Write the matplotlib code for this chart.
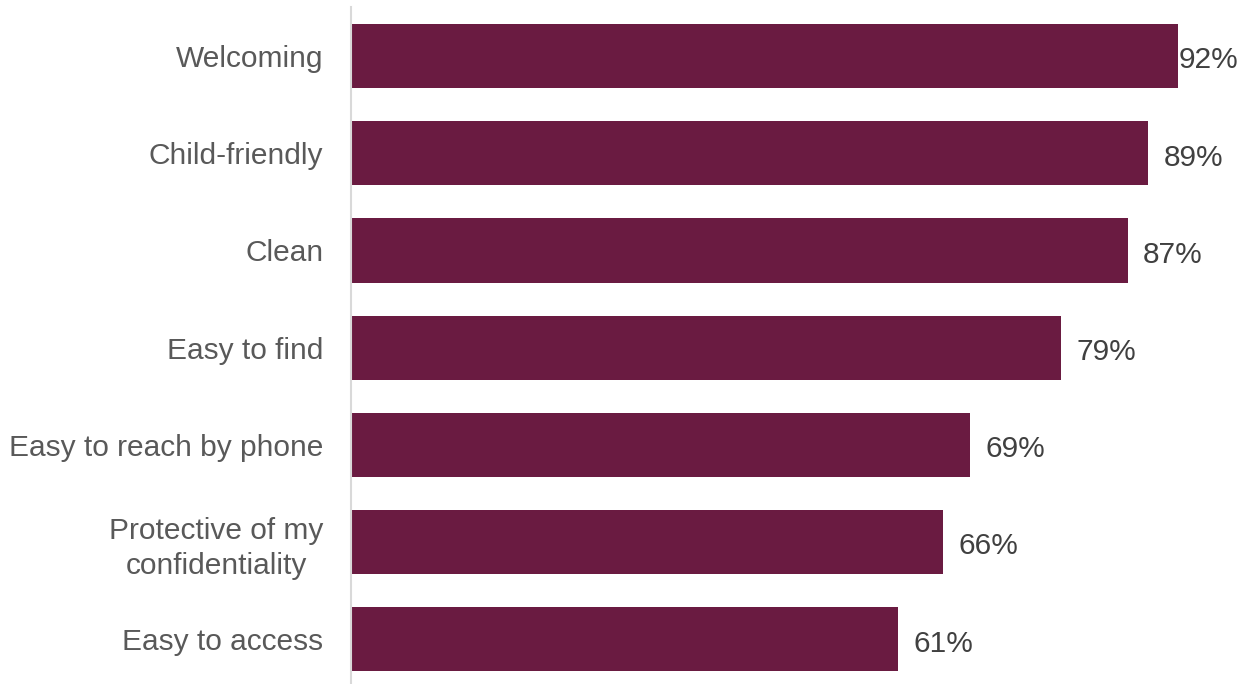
import matplotlib
matplotlib.use("Agg")
import matplotlib.pyplot as plt

categories = ["Welcoming", "Child-friendly", "Clean", "Easy to find",
              "Easy to reach by phone", "Protective of my\nconfidentiality", "Easy to access"]
values = [92, 88.7, 86.4, 79, 68.9, 65.9, 60.9]
value_labels = ["92%", "89%", "87%", "79%", "69%", "66%", "61%"]

plt.rcParams['font.family'] = ['Liberation Sans', 'DejaVu Sans']

fig = plt.figure(figsize=(12.5, 6.84), dpi=100)
ax = fig.add_axes([351/1250, 0.0, 1 - 351/1250, 1 - 7.4/684])

y = list(range(len(categories)))
ax.barh(y, values, height=0.66, color="#6A1B41")
ax.set_xlim(0, 100)
ax.set_ylim(6.46, -0.5)

ax.set_yticks(y)
ax.set_yticklabels(categories, fontsize=21.5, color="#595959")
for lab in ax.get_yticklabels():
    lab.set_ha("right")
    lab.set_multialignment("center")
    lab.set_linespacing(1.3)
ax.tick_params(axis="y", length=0, pad=20)
ax.set_xticks([])

for s in ["top", "right", "bottom"]:
    ax.spines[s].set_visible(False)
ax.spines["left"].set_color("#D9D9D9")
ax.spines["left"].set_linewidth(1.5)

for yi, v, t in zip(y, values, value_labels):
    off = 1 if v >= 92 else 15
    ax.annotate(t, xy=(v, yi), xytext=(off * 0.72, -1), textcoords="offset points",
                ha="left", va="center_baseline", fontsize=21.5, color="#404040")

fig.savefig("out.png", dpi=100)
